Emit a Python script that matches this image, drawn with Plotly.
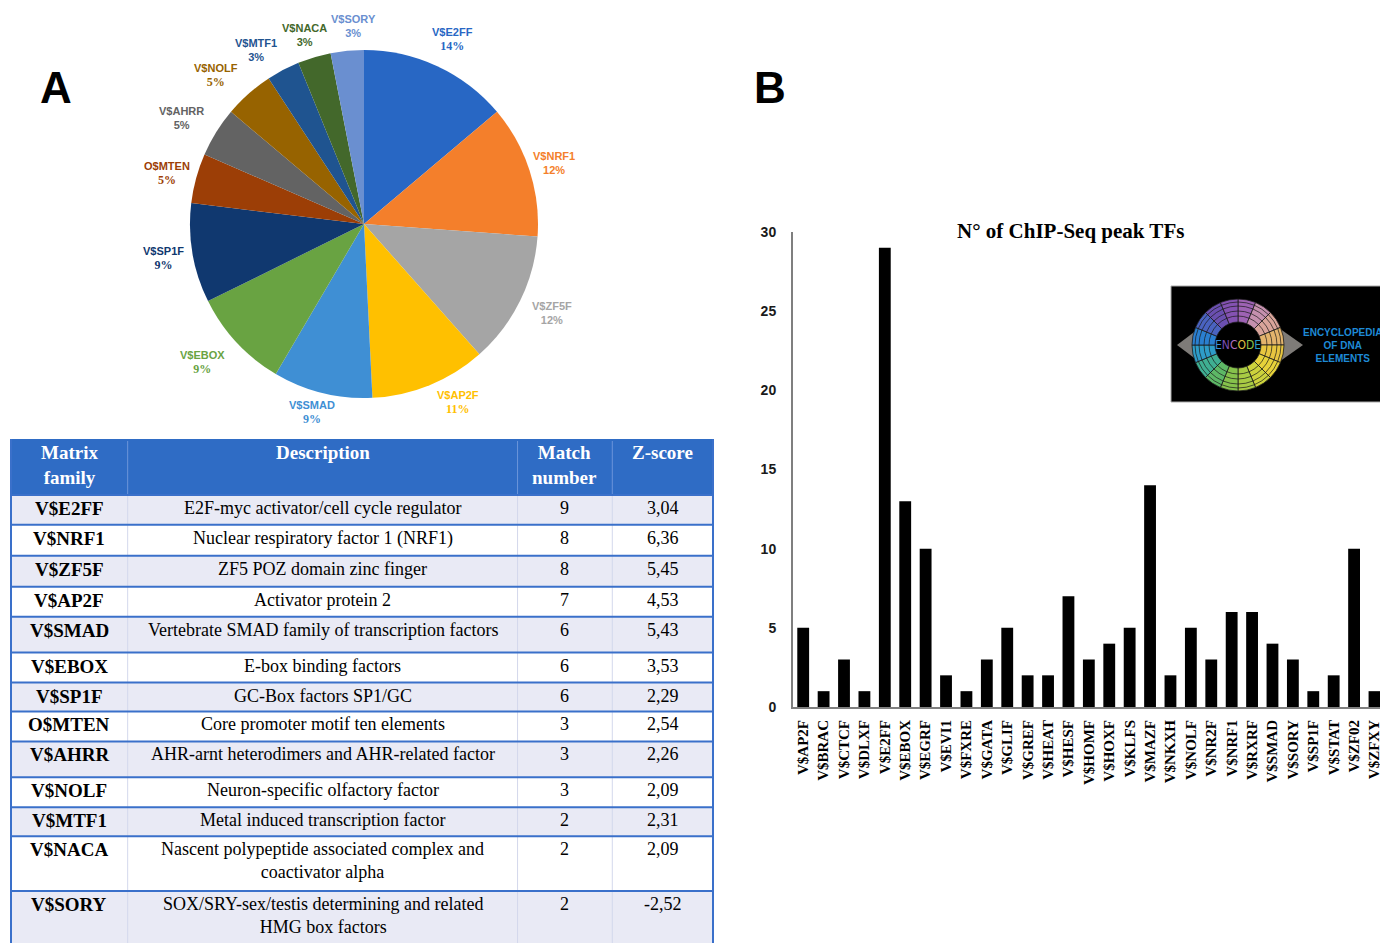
import math
import plotly.graph_objects as go

W, H = 1380, 943

# ---------------- data ----------------
families = ["V$E2FF", "V$NRF1", "V$ZF5F", "V$AP2F", "V$SMAD", "V$EBOX", "V$SP1F",
            "O$MTEN", "V$AHRR", "V$NOLF", "V$MTF1", "V$NACA", "V$SORY"]
match_numbers = [9, 8, 8, 7, 6, 6, 6, 3, 3, 3, 2, 2, 2]
descriptions = [
    "E2F-myc activator/cell cycle regulator",
    "Nuclear respiratory factor 1 (NRF1)",
    "ZF5 POZ domain zinc finger",
    "Activator protein 2",
    "Vertebrate SMAD family of transcription factors",
    "E-box binding factors",
    "GC-Box factors SP1/GC",
    "Core promoter motif ten elements",
    "AHR-arnt heterodimers and AHR-related factor",
    "Neuron-specific olfactory factor",
    "Metal induced transcription factor",
    "Nascent polypeptide associated complex and<br>coactivator alpha",
    "SOX/SRY-sex/testis determining and related<br>HMG box factors",
]
z_scores = ["3,04", "6,36", "5,45", "4,53", "5,43", "3,53", "2,29",
            "2,54", "2,26", "2,09", "2,31", "2,09", "-2,52"]
table_headers = ["Matrix<br>family", "Description", "Match<br>number", "Z-score"]

bar_tfs = ["V$AP2F", "V$BRAC", "V$CTCF", "V$DLXF", "V$E2FF", "V$EBOX", "V$EGRF",
           "V$EVI1", "V$FXRE", "V$GATA", "V$GLIF", "V$GREF", "V$HEAT", "V$HESF",
           "V$HOMF", "V$HOXF", "V$KLFS", "V$MAZF", "V$NKXH", "V$NOLF", "V$NR2F",
           "V$NRF1", "V$RXRF", "V$SMAD", "V$SORY", "V$SP1F", "V$STAT", "V$ZF02",
           "V$ZFXY"]
bar_peaks = [5, 1, 3, 1, 29, 13, 10, 2, 1, 3, 5, 2, 2, 7, 3, 4, 5, 14, 2, 5, 3,
             6, 6, 4, 3, 1, 2, 10, 1]
bar_title = "N° of ChIP-Seq peak TFs"

# ---------------- styles / layout ----------------
pie_colors = ["#2867C4", "#F47F2B", "#A5A5A5", "#FFC000", "#3F8FD4", "#69A342",
              "#10386F", "#9C3E06", "#636363", "#976300", "#1F5490", "#43682B",
              "#6A8FD0"]
pct_serif = [True, False, False, True, True, True, True, True, False, True,
             False, False, False]
# small manual nudges (px) of the outside labels away from the radial position
label_nudge = [(3, 1), (-4, 2), (5, -1), (17, -10), (-3, -10), (-12, 0), (1, 0),
               (0, 3), (-9, 2), (-13, 4), (-13, 7), (-1, 6), (9, 5)]

logo_colors = ["#9E63B4", "#C590AE", "#D9A49A", "#E3B46C", "#E8C640", "#E6D23A",
               "#CCD23C", "#A9CB44", "#86C24C", "#5DB866", "#3FAF92", "#2E9CC8",
               "#2A7FD0", "#4A63C0", "#6A4FB0", "#8452B2"]

col_widths = [117, 391, 95, 101]
header_height = 56
row_heights = [30, 31, 31, 30, 36, 30, 29, 30, 36, 30, 29, 55, 55]

SERIF = "Liberation Serif"
SANS = "Liberation Sans"
BLUE = "#2F6CC5"


def px(x):
    return x / W


def py(y):
    return 1 - y / H


fig = go.Figure()
annotations = []
shapes = []

# ---------------- pie (A) ----------------
cx, cy, R = 364, 224, 174
fig.add_trace(go.Pie(
    labels=families, values=match_numbers, sort=False, direction="clockwise",
    rotation=0, textinfo="none", hoverinfo="label+percent",
    marker=dict(colors=pie_colors, line=dict(color="white", width=0)),
    domain=dict(x=[px(cx - R), px(cx + R)], y=[py(cy + R), py(cy - R)]),
    showlegend=False,
))

total = sum(match_numbers)
cum = 0
r_lab = 204
for i, (name, v) in enumerate(zip(families, match_numbers)):
    a = (cum + v / 2) / total * 2 * math.pi
    cum += v
    lx = cx + r_lab * math.sin(a) + label_nudge[i][0]
    ly = cy - r_lab * math.cos(a) + label_nudge[i][1]
    pct = round(v / total * 100)
    if pct_serif[i]:
        ptxt = f"<span style='font-family:{SERIF}; font-size:12px'><b>{pct}%</b></span>"
    else:
        ptxt = f"<b>{pct}%</b>"
    annotations.append(dict(
        x=px(lx), y=py(ly), xref="paper", yref="paper",
        text=f"<b>{name}</b><br>{ptxt}", showarrow=False,
        font=dict(family=SANS, size=11, color=pie_colors[i]),
        xanchor="center", yanchor="middle", align="center",
    ))

# ---------------- table (drawn on a hidden axis pair, units = px) ----------------
tbl_x0, tbl_top = 10, 438
tbl_w = sum(col_widths)
tbl_h = H - tbl_top
col_edges = [0]
for w_ in col_widths:
    col_edges.append(col_edges[-1] + w_)
col_centers = [(col_edges[j] + col_edges[j + 1]) / 2 for j in range(len(col_widths))]
row_tops = [header_height]
for h_ in row_heights:
    row_tops.append(row_tops[-1] + h_)
tbl_bottom = row_tops[-1]

TX, TY = "x3", "y3"
# header
shapes.append(dict(type="rect", xref=TX, yref=TY, x0=0, x1=tbl_w, y0=0,
                   y1=header_height, fillcolor=BLUE, line=dict(width=0),
                   layer="below"))
for e in col_edges[1:-1]:
    shapes.append(dict(type="line", xref=TX, yref=TY, x0=e, x1=e, y0=2,
                       y1=header_height, line=dict(color="#6C95DA", width=1)))
for j, htxt in enumerate(table_headers):
    annotations.append(dict(x=col_centers[j], y=1, xref=TX, yref=TY,
                            text=f"<b>{htxt}</b>", showarrow=False,
                            xanchor="center", yanchor="top", align="center",
                            font=dict(family=SERIF, size=19, color="white")))
# body rows
for i in range(len(families)):
    top, bot = row_tops[i], row_tops[i + 1]
    fill = "#E9EAF5" if i % 2 == 0 else "#FFFFFF"
    shapes.append(dict(type="rect", xref=TX, yref=TY, x0=0, x1=tbl_w, y0=top,
                       y1=bot, fillcolor=fill, line=dict(width=0), layer="below"))
    row_vals = [f"<b>{families[i]}</b>", descriptions[i], str(match_numbers[i]),
                z_scores[i]]
    for j, t in enumerate(row_vals):
        annotations.append(dict(
            x=col_centers[j], y=top + 1, xref=TX, yref=TY, text=t,
            showarrow=False, xanchor="center", yanchor="top", align="center",
            font=dict(family=SERIF, size=19 if j == 0 else 18, color="black")))
for e in col_edges[1:-1]:
    shapes.append(dict(type="line", xref=TX, yref=TY, x0=e, x1=e,
                       y0=header_height, y1=tbl_bottom,
                       line=dict(color="#D3D8EC", width=1)))
for t in row_tops:
    shapes.append(dict(type="line", xref=TX, yref=TY, x0=0, x1=tbl_w, y0=t, y1=t,
                       line=dict(color="#3A70CA", width=2)))
for e in (0, tbl_w):
    shapes.append(dict(type="line", xref=TX, yref=TY, x0=e, x1=e, y0=0,
                       y1=tbl_bottom, line=dict(color="#3A70CA", width=2)))

# ---------------- bars (B) ----------------
fig.add_trace(go.Bar(
    x=bar_tfs, y=bar_peaks, marker=dict(color="black", line=dict(width=0)),
    xaxis="x", yaxis="y", showlegend=False, width=0.58,
))

fig.update_layout(
    xaxis=dict(
        domain=[px(793), 1.0], range=[-0.5, 28.27], type="category",
        showline=True, linecolor="#7F7F7F", linewidth=2, ticks="",
        ticklabelstandoff=5, automargin=False,
        tickangle=-90,
        tickfont=dict(family=SERIF, size=15, color="black", weight="bold"),
        showgrid=False, zeroline=False, anchor="y", fixedrange=True,
    ),
    yaxis=dict(
        domain=[py(707), py(232)], range=[0, 30], dtick=5,
        showline=True, linecolor="#7F7F7F", linewidth=2, ticks="",
        ticklabelstandoff=12, automargin=False,
        tickfont=dict(family=SANS, size=14, color="#1A1A1A", weight="bold"),
        showgrid=False, zeroline=False, anchor="x", fixedrange=True,
    ),
    xaxis3=dict(domain=[px(tbl_x0), px(tbl_x0 + tbl_w)], range=[-1, tbl_w + 1],
                visible=False, fixedrange=True, anchor="y3", automargin=False),
    yaxis3=dict(domain=[0, py(tbl_top)], range=[tbl_h, -1], visible=False,
                fixedrange=True, anchor="x3", automargin=False),
)

annotations.append(dict(
    x=px(1070), y=py(231), xref="paper", yref="paper", text=f"<b>{bar_title}</b>",
    showarrow=False, font=dict(family=SERIF, size=21, color="black"),
    xanchor="center", yanchor="middle"))

# panel letters
for letter, lxp in (("A", 56), ("B", 770)):
    annotations.append(dict(x=px(lxp), y=py(87), xref="paper", yref="paper",
                            text=f"<b>{letter}</b>", showarrow=False,
                            font=dict(family=SANS, size=44, color="black"),
                            xanchor="center", yanchor="middle"))

# ---------------- ENCODE logo ----------------
shapes.append(dict(type="rect", xref="paper", yref="paper",
                   x0=px(1171), x1=px(1385), y0=py(402), y1=py(286),
                   fillcolor="black", line=dict(color="#AAAAAA", width=1),
                   layer="below"))
lcx, lcy = 1238, 345
dpath = (f"M {px(1177)} {py(lcy)} L {px(lcx)} {py(lcy - 46)} "
         f"L {px(1303)} {py(lcy)} L {px(lcx)} {py(lcy + 46)} Z")
shapes.append(dict(type="path", xref="paper", yref="paper", path=dpath,
                   fillcolor="#7E7B78", line=dict(width=0), layer="below"))
ring_r = 46
shapes.append(dict(type="circle", xref="paper", yref="paper",
                   x0=px(lcx - 24), x1=px(lcx + 24),
                   y0=py(lcy + 24), y1=py(lcy - 24),
                   fillcolor="black", line=dict(width=0), layer="below"))
fig.add_trace(go.Pie(
    values=[1] * len(logo_colors), sort=False, direction="clockwise", rotation=0,
    hole=0.5, textinfo="none", hoverinfo="skip", showlegend=False,
    marker=dict(colors=logo_colors, line=dict(color="#1A1A1A", width=0.8)),
    domain=dict(x=[px(lcx - ring_r), px(lcx + ring_r)],
                y=[py(lcy + ring_r), py(lcy - ring_r)]),
))
for rr in (29, 34, 39, 43):
    shapes.append(dict(type="circle", xref="paper", yref="paper",
                       x0=px(lcx - rr), x1=px(lcx + rr),
                       y0=py(lcy + rr), y1=py(lcy - rr),
                       line=dict(color="#1A1A1A", width=0.7), layer="above"))
enc_cols = ["#3B8FD8", "#7A4FB5", "#B070C0", "#E0C040", "#8BC34A", "#2E9CC8"]
enc_txt = "".join(f"<span style='color:{c}'>{ch}</span>"
                  for ch, c in zip("ENCODE", enc_cols))
annotations.append(dict(x=px(lcx), y=py(lcy), xref="paper", yref="paper",
                        text=enc_txt, showarrow=False,
                        font=dict(family="DejaVu Sans Condensed", size=12),
                        xanchor="center", yanchor="middle"))
annotations.append(dict(x=px(1342), y=py(345), xref="paper", yref="paper",
                        text="<b>ENCYCLOPEDIA<br>OF DNA<br>ELEMENTS</b>",
                        showarrow=False,
                        font=dict(family=SANS, size=10, color="#1E8AD6"),
                        xanchor="center", yanchor="middle", align="center"))

fig.update_layout(
    width=W, height=H, autosize=False,
    margin=dict(l=0, r=0, t=0, b=0, pad=0),
    paper_bgcolor="white", plot_bgcolor="rgba(0,0,0,0)",
    annotations=annotations, shapes=shapes,
    bargap=0.42,
)

post = (
    "document.documentElement.style.margin='0';"
    "document.documentElement.style.padding='0';"
    "document.documentElement.style.overflow='hidden';"
    "document.body.style.margin='0';"
    "document.body.style.padding='0';"
    "document.body.style.overflow='hidden';"
    "var gdiv=document.getElementById('{plot_id}');"
    "gdiv.style.position='absolute';gdiv.style.left='0px';gdiv.style.top='0px';"
)
fig.write_html("out.html", config={"displayModeBar": False}, post_script=post)
